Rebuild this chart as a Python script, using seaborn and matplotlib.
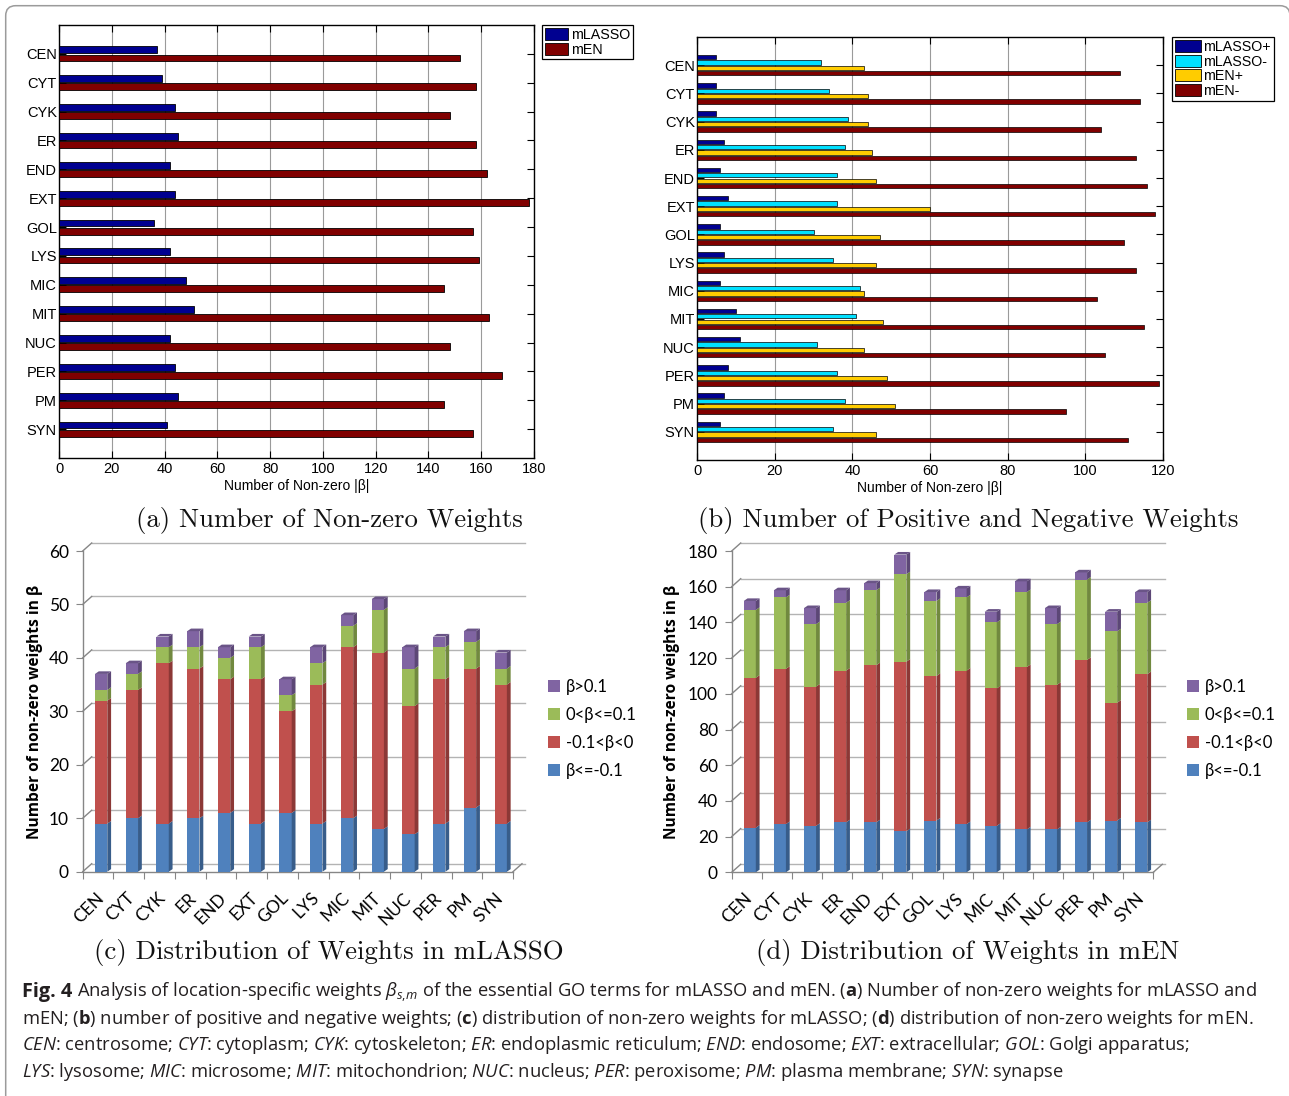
import numpy as np
import pandas as pd
import matplotlib
matplotlib.use("Agg")
import matplotlib.pyplot as plt
import matplotlib.transforms as mtransforms
import seaborn as sns
from matplotlib.patches import Patch, Polygon, FancyBboxPatch

# ---------------- data ----------------
locations = ["CEN", "CYT", "CYK", "ER", "END", "EXT", "GOL", "LYS", "MIC", "MIT", "NUC", "PER", "PM", "SYN"]

# (a) number of non-zero weights
mlasso_total = [37, 39, 44, 45, 42, 44, 36, 42, 48, 51, 42, 44, 45, 41]
men_total = [152, 158, 148, 158, 162, 178, 157, 159, 146, 163, 148, 168, 146, 157]

# (b) positive / negative weights
mlasso_pos = [5, 5, 5, 7, 6, 8, 6, 7, 6, 10, 11, 8, 7, 6]
mlasso_neg = [32, 34, 39, 38, 36, 36, 30, 35, 42, 41, 31, 36, 38, 35]
men_pos = [43, 44, 44, 45, 46, 60, 47, 46, 43, 48, 43, 49, 51, 46]
men_neg = [109, 114, 104, 113, 116, 118, 110, 113, 103, 115, 105, 119, 95, 111]

# (c) distribution of weights in mLASSO
lasso_le_m01 = [9, 10, 9, 10, 11, 9, 11, 9, 10, 8, 7, 9, 12, 9]
lasso_m01_0 = [23, 24, 30, 28, 25, 27, 19, 26, 32, 33, 24, 27, 26, 26]
lasso_0_01 = [2, 3, 3, 4, 4, 6, 3, 4, 4, 8, 7, 6, 5, 3]
lasso_gt01 = [3, 2, 2, 3, 2, 2, 3, 3, 2, 2, 4, 2, 2, 3]

# (d) distribution of weights in mEN
en_le_m01 = [25, 27, 26, 28, 28, 23, 29, 27, 26, 24, 24, 28, 29, 28]
en_m01_0 = [84, 87, 78, 85, 88, 95, 81, 86, 77, 91, 81, 91, 66, 83]
en_0_01 = [38, 40, 35, 38, 42, 49, 42, 41, 37, 42, 34, 45, 40, 40]
en_gt01 = [5, 4, 9, 7, 4, 11, 5, 5, 6, 6, 9, 4, 11, 6]

dist_labels = ["β<=-0.1", "-0.1<β<0", "0<β<=0.1", "β>0.1"]

# ---------------- style ----------------
plt.rcParams["font.family"] = ["Liberation Sans", "DejaVu Sans"]
plt.rcParams["mathtext.fontset"] = "custom"
plt.rcParams["mathtext.rm"] = "Open Sans"
plt.rcParams["mathtext.it"] = "Open Sans:italic"
plt.rcParams["mathtext.bf"] = "Open Sans:bold"

W, H = 1289, 1096
fig = plt.figure(figsize=(W / 100, H / 100), dpi=100)


def add_ax(l, t, r, b):
    return fig.add_axes([l / W, 1 - b / H, (r - l) / W, (b - t) / H])


mat_fs = 10.5

# ---------------- (a) ----------------
axA = add_ax(59, 25, 534, 458)
dfA = pd.DataFrame({
    "loc": locations * 2,
    "count": mlasso_total + men_total,
    "method": ["mLASSO"] * 14 + ["mEN"] * 14,
})
colA = ["#000090", "#800000"]
sns.barplot(data=dfA, y="loc", x="count", hue="method", order=locations,
            hue_order=["mLASSO", "mEN"], palette=colA, orient="h",
            width=0.56, gap=0.16, saturation=1, edgecolor="black",
            linewidth=0.6, errorbar=None, legend=False, ax=axA, zorder=3)
axA.set_xlim(0, 180)
axA.set_ylim(14, -1)
axA.set_xticks(range(0, 181, 20))
axA.set_yticks(range(14))
axA.set_yticklabels(locations)
axA.grid(axis="x", color="#9a9a9a", lw=0.8)
axA.grid(axis="y", visible=False)
axA.set_axisbelow(True)
axA.tick_params(direction="in", length=5, top=True, right=True, labelsize=mat_fs, pad=3)
axA.tick_params(axis="y", pad=1.5)
for s in axA.spines.values():
    s.set_linewidth(1)
    s.set_color("black")
axA.set_xlabel("Number of Non-zero |β|", fontsize=10, labelpad=2)
axA.set_ylabel("")
legA = fig.legend(handles=[Patch(facecolor=c, edgecolor="black", lw=0.6, label=l)
                           for c, l in zip(colA, ["mLASSO", "mEN"])],
                  loc="upper left", bbox_to_anchor=(542 / W, 1 - 25 / H),
                  frameon=True, fancybox=False, edgecolor="black", framealpha=1,
                  fontsize=10.3, handlelength=1.6, handleheight=0.9,
                  handletextpad=0.2, borderpad=0.2, labelspacing=0.05, borderaxespad=0)
legA.get_frame().set_linewidth(0.9)

# ---------------- (b) ----------------
axB = add_ax(697, 37, 1163, 460)
dfB = pd.DataFrame({
    "loc": locations * 4,
    "count": mlasso_pos + mlasso_neg + men_pos + men_neg,
    "series": ["mLASSO+"] * 14 + ["mLASSO-"] * 14 + ["mEN+"] * 14 + ["mEN-"] * 14,
})
colB = ["#000090", "#00E0FF", "#FFCC00", "#800000"]
sns.barplot(data=dfB, y="loc", x="count", hue="series", order=locations,
            hue_order=["mLASSO+", "mLASSO-", "mEN+", "mEN-"], palette=colB,
            orient="h", width=0.76, gap=0.2, saturation=1, edgecolor="black",
            linewidth=0.5, errorbar=None, legend=False, ax=axB, zorder=3)
axB.set_xlim(0, 120)
axB.set_ylim(14, -1)
axB.set_xticks(range(0, 121, 20))
axB.set_yticks(range(14))
axB.set_yticklabels(locations)
axB.grid(axis="x", color="#9a9a9a", lw=0.8)
axB.grid(axis="y", visible=False)
axB.set_axisbelow(True)
axB.tick_params(direction="in", length=5, top=True, right=True, labelsize=mat_fs, pad=3)
axB.tick_params(axis="y", pad=1.5)
for s in axB.spines.values():
    s.set_linewidth(1)
    s.set_color("black")
axB.set_xlabel("Number of Non-zero |β|", fontsize=10, labelpad=2)
axB.set_ylabel("")
legB = fig.legend(handles=[Patch(facecolor=c, edgecolor="black", lw=0.6, label=l)
                           for c, l in zip(colB, ["mLASSO+", "mLASSO-", "mEN+", "mEN-"])],
                  loc="upper left", bbox_to_anchor=(1172 / W, 1 - 37 / H),
                  frameon=True, fancybox=False, edgecolor="black", framealpha=1,
                  fontsize=10.3, handlelength=1.8, handleheight=0.9,
                  handletextpad=0.2, borderpad=0.2, labelspacing=0.05, borderaxespad=0)
legB.get_frame().set_linewidth(0.9)

# ---------------- (c), (d) 3-D looking stacked bars ----------------
front_cols = ["#4F81BD", "#C0504D", "#9BBB59", "#8064A2"]
side_cols = ["#385D8A", "#8C3836", "#71893F", "#5C4776"]
top_cols = ["#4A6E9C", "#9F4542", "#809B4B", "#6A5487"]
axis_gray = "#868686"
grid_gray = "#B3B3B3"
tickfont = "Lato"
tick_fs = 12.5


def stacked3d(ax, comps, ymax, ystep, box_px):
    l, t, r, b = box_px
    comps = np.array(comps)
    cum = np.cumsum(comps, axis=0)
    containers = {}
    for k in reversed(range(len(comps))):
        sns.barplot(x=locations, y=cum[k], order=locations, color=front_cols[k],
                    saturation=1, width=0.4, linewidth=0, errorbar=None,
                    ax=ax, zorder=3)
        containers[k] = ax.containers[-1]
    x0, x1 = -0.6, 13.4
    ax.set_xlim(x0, x1)
    ax.set_ylim(0, ymax)
    ppx = (r - l) / (x1 - x0)
    ppy = (b - t) / ymax
    # wall and bar depth offsets (pixels -> data)
    wdx, wdy = 9 / ppx, 8 / ppy
    bdx, bdy = 3.8 / ppx, 2.6 / ppy
    # back wall grid lines and connecting stubs
    for v in np.arange(0, ymax + 0.1, ystep):
        ax.plot([x0 + wdx, x1 + wdx + 3 / ppx], [v + wdy, v + wdy], color=grid_gray,
                lw=1, clip_on=False, zorder=1)
        ax.plot([x0, x0 + wdx], [v, v + wdy], color=axis_gray, lw=1, clip_on=False, zorder=1)
    ax.plot([x1, x1 + wdx], [0, wdy], color=axis_gray, lw=1, clip_on=False, zorder=1)
    # side / top faces of each stacked segment
    for k in range(len(comps)):
        for i, rect in enumerate(containers[k].patches):
            xr = rect.get_x() + rect.get_width()
            lo = cum[k - 1][i] if k > 0 else 0
            hi = cum[k][i]
            ax.add_patch(Polygon([(xr, lo), (xr, hi), (xr + bdx, hi + bdy), (xr + bdx, lo + bdy)],
                                 closed=True, facecolor=side_cols[k], edgecolor="none", zorder=3))
            if k == len(comps) - 1:
                xl = rect.get_x()
                ax.add_patch(Polygon([(xl, hi), (xr, hi), (xr + bdx, hi + bdy), (xl + bdx, hi + bdy)],
                                     closed=True, facecolor=top_cols[k], edgecolor="none", zorder=3))
    for side in ["top", "right"]:
        ax.spines[side].set_visible(False)
    for side in ["left", "bottom"]:
        ax.spines[side].set_color(axis_gray)
        ax.spines[side].set_linewidth(1)
    ax.set_yticks(np.arange(0, ymax + 0.1, ystep))
    ax.set_yticklabels([str(int(v)) for v in np.arange(0, ymax + 0.1, ystep)],
                       fontfamily=tickfont, fontsize=tick_fs)
    ax.tick_params(axis="y", direction="out", length=5, color=axis_gray, pad=5)
    ax.set_xticks(np.arange(15) + x0)
    ax.set_xticklabels([])
    ax.tick_params(axis="x", which="major", direction="out", length=5, color=axis_gray)
    ax.set_xticks(range(14), minor=True)
    ax.set_xticklabels(locations, minor=True, rotation=45, ha="right", va="center",
                       rotation_mode="anchor", fontfamily=tickfont, fontsize=tick_fs)
    ax.tick_params(axis="x", which="minor", length=0, pad=17)
    ax.set_xlabel("")
    ax.set_ylabel("")
    ax.grid(False)
    ax.patch.set_visible(False)


axC = add_ax(82.7, 551, 513, 871.7)
stacked3d(axC, [lasso_le_m01, lasso_m01_0, lasso_0_01, lasso_gt01], 60, 10, (82.7, 551, 513, 871.7))
axD = add_ax(731.7, 551, 1153.3, 872.3)
stacked3d(axD, [en_le_m01, en_m01_0, en_0_01, en_gt01], 180, 20, (731.7, 551, 1153.3, 872.3))

for xc in (35, 672):
    fig.text(xc / W, 1 - 712 / H, "Number of non-zero weights in β", rotation=90,
             ha="center", va="center", fontsize=11.2, fontweight="bold",
             family=["Open Sans", "DejaVu Sans"])

for ax, lx in ((axC, 548), (axD, 1187)):
    h = [Patch(facecolor=front_cols[k], edgecolor="none", label=dist_labels[k]) for k in [3, 2, 1, 0]]
    fig.legend(handles=h, loc="upper left", bbox_to_anchor=(lx / W, 1 - 679 / H),
               frameon=False, prop={"family": tickfont, "size": 12},
               handlelength=0.72, handleheight=0.72, handletextpad=0.35,
               labelspacing=0.72, borderpad=0, borderaxespad=0)

# ---------------- sub-captions ----------------
subcap = dict(fontfamily="cmr10", fontsize=19.3, ha="center", va="center", color="#111111")
fig.text(329 / W, 1 - 521 / H, "(a) Number of Non-zero Weights", **subcap)
fig.text(968 / W, 1 - 521 / H, "(b) Number of Positive and Negative Weights", **subcap)
fig.text(329 / W, 1 - 952 / H, "(c) Distribution of Weights in mLASSO", **subcap)
fig.text(968 / W, 1 - 952 / H, "(d) Distribution of Weights in mEN", **subcap)

# ---------------- figure caption ----------------
cap_head = "Fig. 4"
cap_lines = [
    r"Analysis of location-specific weights $\beta_{s,\!m}$ of the essential GO terms for mLASSO and mEN. ($\mathbf{a}$) Number of non-zero weights for mLASSO and",
    r"mEN; ($\mathbf{b}$) number of positive and negative weights; ($\mathbf{c}$) distribution of non-zero weights for mLASSO; ($\mathbf{d}$) distribution of non-zero weights for mEN.",
    r"$\mathit{CEN}$: centrosome; $\mathit{CYT}$: cytoplasm; $\mathit{CYK}$: cytoskeleton; $\mathit{ER}$: endoplasmic reticulum; $\mathit{END}$: endosome; $\mathit{EXT}$: extracellular; $\mathit{GOL}$: Golgi apparatus;",
    r"$\mathit{LYS}$: lysosome; $\mathit{MIC}$: microsome; $\mathit{MIT}$: mitochondrion; $\mathit{NUC}$: nucleus; $\mathit{PER}$: peroxisome; $\mathit{PM}$: plasma membrane; $\mathit{SYN}$: synapse",
]
cap_y = [992, 1019, 1045, 1072]
renderer = fig.canvas.get_renderer()
# fit caption size to the width of the second line
probe = fig.text(0, 0, cap_lines[1], fontsize=12, family="Open Sans")
wpx = probe.get_window_extent(renderer).width
probe.remove()
cap_size = 12 * (1231 / wpx)
head = fig.text(22 / W, 1 - cap_y[0] / H, cap_head, fontsize=cap_size * 1.08,
                family="Open Sans", fontweight="bold", ha="left", va="center",
                color="#231F20")
head_w = head.get_window_extent(renderer).width
space_w = cap_size * 100 / 72 * 0.26
for j, (line, y) in enumerate(zip(cap_lines, cap_y)):
    x = 22 + (head_w + space_w if j == 0 else 0)
    fig.text(x / W, 1 - y / H, line, fontsize=cap_size, family="Open Sans",
             ha="left", va="center", color="#231F20")

# ---------------- outer frame ----------------
frame = FancyBboxPatch((5.7, -60), 1290 - 5.7, H - 5.7 + 60,
                       boxstyle="round,pad=0,rounding_size=10",
                       transform=mtransforms.IdentityTransform(),
                       fill=False, edgecolor="#9b9b9b", lw=1.1)
fig.add_artist(frame)

fig.savefig("out.png", dpi=100)
